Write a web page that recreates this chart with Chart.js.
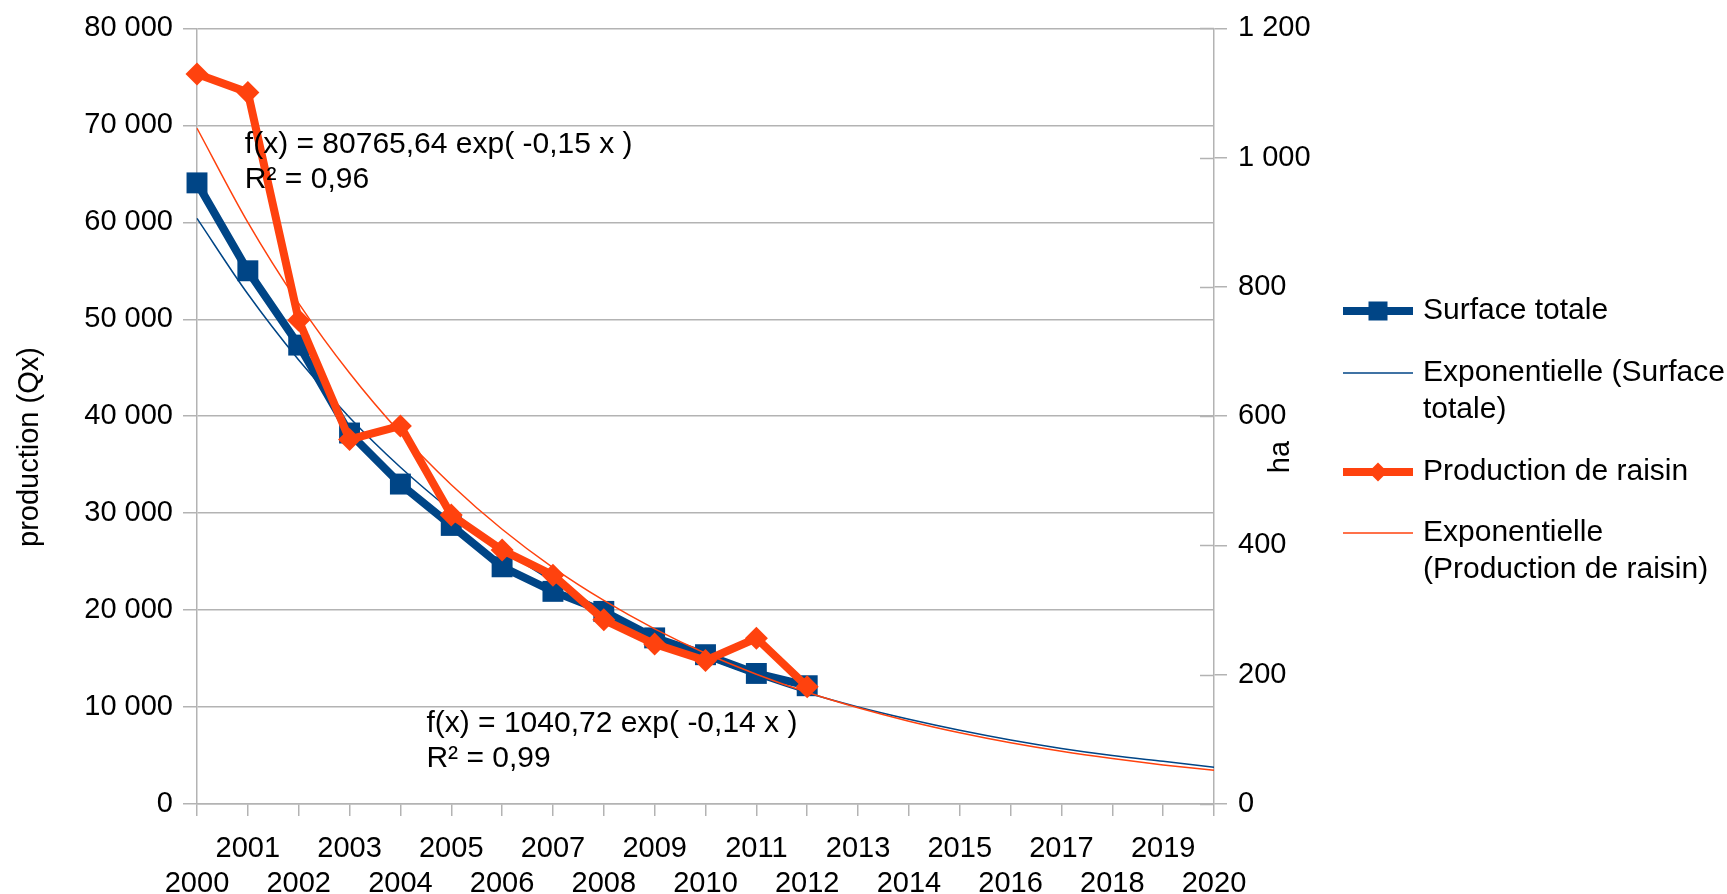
<!DOCTYPE html>
<html>
<head>
<meta charset="utf-8">
<script src="https://cdn.jsdelivr.net/npm/chart.js@4/dist/chart.umd.min.js"></script>
<style>
  html, body { margin: 0; padding: 0; background: #fff; }
  #wrap { width: 1727px; height: 894px; }
</style>
</head>
<body>
<div id="wrap"><canvas id="chart" width="1727" height="894"></canvas></div>
<script>
// categories (years)
const years = ["2000", "2001", "2002", "2003", "2004", "2005", "2006", "2007", "2008", "2009", "2010",
  "2011", "2012", "2013", "2014", "2015", "2016", "2017", "2018", "2019", "2020"];

// Surface totale (ha, right axis)
const surfaceTotale = [961, 825, 710, 574, 495, 431, 367, 329, 298, 257, 231, 202, 183];
// Production de raisin (Qx, left axis)
const productionRaisin = [75300, 73400, 49900, 37600, 39000, 29800, 26200, 23600, 19000, 16500, 14800, 17100, 12100];

// trend lines
const expSurface = [906, 789, 687, 598, 521, 454, 395, 344, 300, 261, 227, 198, 172, 150, 131, 114, 99, 86, 75, 66, 57];
const expProduction = [69700, 59990, 51640, 44450, 38260, 32930, 28340, 24390, 21000, 18070, 15550, 13390, 11520,
  9920, 8540, 7350, 6320, 5440, 4690, 4030, 3470];

// tick labels
const leftTicks = [0, 10000, 20000, 30000, 40000, 50000, 60000, 70000, 80000];
const rightTicks = [0, 200, 400, 600, 800, 1000, 1200];

const eqProduction = ["f(x) = 80765,64 exp( -0,15 x )", "R² = 0,96"];
const eqSurface = ["f(x) = 1040,72 exp( -0,14 x )", "R² = 0,99"];

const BLUE = "#004586";
const ORANGE = "#ff420e";
const GRID = "#b3b3b3";
const FONT = "Liberation Sans, Arial, sans-serif";

function fmt(v) {
  return String(v).replace(/\B(?=(\d{3})+(?!\d))/g, " ");
}

// staggered x labels: odd years on first row, even years on second
const xLabels = years.map(y => (parseInt(y) % 2 === 1 ? [y, ""] : ["", y]));

const legendItems = [
  { lines: ["Surface totale"], color: BLUE, width: 8, marker: "rect", y: 311 },
  { lines: ["Exponentielle (Surface", "totale)"], color: BLUE, width: 1.5, marker: null, y: 373 },
  { lines: ["Production de raisin"], color: ORANGE, width: 8, marker: "diamond", y: 472 },
  { lines: ["Exponentielle", "(Production de raisin)"], color: ORANGE, width: 1.5, marker: null, y: 533 }
];

const extras = {
  id: "extras",
  afterDraw(chart) {
    const ctx = chart.ctx;
    const area = chart.chartArea;
    const x = chart.scales.x;
    ctx.save();
    ctx.fillStyle = "#000";
    ctx.font = "29px " + FONT;
    ctx.textBaseline = "middle";

    // axis titles
    ctx.save();
    ctx.translate(30, 447);
    ctx.rotate(-Math.PI / 2);
    ctx.textAlign = "center";
    ctx.fillText("production (Qx)", 0, 0);
    ctx.restore();
    ctx.save();
    ctx.translate(1281, 457);
    ctx.rotate(-Math.PI / 2);
    ctx.textAlign = "center";
    ctx.fillText("ha", 0, 0);
    ctx.restore();

    // inner part of right axis ticks
    const r = chart.scales.y1;
    ctx.strokeStyle = GRID;
    ctx.lineWidth = 1.5;
    rightTicks.forEach(v => {
      const py = Math.round(r.getPixelForValue(v)) + 0.5;
      ctx.beginPath();
      ctx.moveTo(area.right - 14, py);
      ctx.lineTo(area.right, py);
      ctx.stroke();
    });

    // trend equations
    ctx.font = "30px " + FONT;
    ctx.textAlign = "left";
    const ax1 = x.getPixelForValue(1) - 3;
    ctx.fillText(eqProduction[0], ax1, 145);
    ctx.fillText(eqProduction[1], ax1, 180);
    const ax2 = x.getPixelForValue(4) + 26;
    ctx.fillText(eqSurface[0], ax2, 724);
    ctx.fillText(eqSurface[1], ax2, 759);

    // legend
    const lx0 = 1343, lx1 = 1413, tx = 1423;
    legendItems.forEach(it => {
      ctx.strokeStyle = it.color;
      ctx.lineWidth = it.width;
      ctx.beginPath();
      ctx.moveTo(lx0, it.y);
      ctx.lineTo(lx1, it.y);
      ctx.stroke();
      const cx = (lx0 + lx1) / 2;
      ctx.fillStyle = it.color;
      if (it.marker === "rect") {
        ctx.fillRect(cx - 9.5, it.y - 9.5, 19, 19);
      } else if (it.marker === "diamond") {
        ctx.beginPath();
        ctx.moveTo(cx, it.y - 9.5);
        ctx.lineTo(cx + 9.5, it.y);
        ctx.lineTo(cx, it.y + 9.5);
        ctx.lineTo(cx - 9.5, it.y);
        ctx.closePath();
        ctx.fill();
      }
      ctx.fillStyle = "#000";
      it.lines.forEach((t, i) => ctx.fillText(t, tx, it.y + i * 37));
    });
    ctx.restore();
  }
};

const ctx = document.getElementById("chart").getContext("2d");
new Chart(ctx, {
  type: "line",
  data: {
    labels: xLabels,
    datasets: [
      {
        label: "Exponentielle (Production de raisin)",
        data: expProduction,
        yAxisID: "y",
        borderColor: ORANGE,
        borderWidth: 1.5,
        pointRadius: 0,
        cubicInterpolationMode: "monotone"
      },
      {
        label: "Production de raisin",
        data: productionRaisin,
        yAxisID: "y",
        borderColor: ORANGE,
        backgroundColor: ORANGE,
        borderWidth: 8,
        pointStyle: "rectRot",
        pointRadius: 11.5,
        pointBorderWidth: 0,
        clip: false
      },
      {
        label: "Exponentielle (Surface totale)",
        data: expSurface,
        yAxisID: "y1",
        borderColor: BLUE,
        borderWidth: 1.5,
        pointRadius: 0,
        cubicInterpolationMode: "monotone"
      },
      {
        label: "Surface totale",
        data: surfaceTotale,
        yAxisID: "y1",
        borderColor: BLUE,
        backgroundColor: BLUE,
        borderWidth: 8,
        pointStyle: "rect",
        pointRadius: 14.8,
        pointBorderWidth: 0,
        clip: false
      }
    ]
  },
  options: {
    responsive: false,
    animation: false,
    layout: { padding: { top: 23, left: 0, right: 0, bottom: 0 } },
    plugins: {
      legend: { display: false },
      tooltip: { enabled: false }
    },
    scales: {
      x: {
        type: "category",
        offset: false,
        grid: { drawOnChartArea: false, color: GRID, lineWidth: 1.5, tickLength: 12 },
        border: { color: GRID, width: 1.5 },
        ticks: {
          autoSkip: false, maxRotation: 0, minRotation: 0, padding: 16,
          color: "#000", font: { family: FONT, size: 29, lineHeight: 1.2 }
        },
        afterFit(scale) { scale.height = 90; }
      },
      y: {
        position: "left",
        min: 0, max: 80000,
        afterBuildTicks(scale) { scale.ticks = leftTicks.map(v => ({ value: v })); },
        grid: { color: GRID, lineWidth: 1.5, tickLength: 14 },
        border: { color: GRID, width: 1.5 },
        ticks: {
          padding: 10, color: "#000", font: { family: FONT, size: 29 },
          callback: v => fmt(v)
        },
        afterFit(scale) { scale.width = 197; }
      },
      y1: {
        position: "right",
        min: 0, max: 1200,
        afterBuildTicks(scale) { scale.ticks = rightTicks.map(v => ({ value: v })); },
        grid: { drawOnChartArea: false, color: GRID, lineWidth: 1.5, tickLength: 13 },
        border: { color: GRID, width: 1.5 },
        ticks: {
          padding: 11, color: "#000", font: { family: FONT, size: 29 },
          callback: v => fmt(v)
        },
        afterFit(scale) { scale.width = 1727 - 1214; }
      }
    }
  },
  plugins: [extras]
});
</script>
</body>
</html>
